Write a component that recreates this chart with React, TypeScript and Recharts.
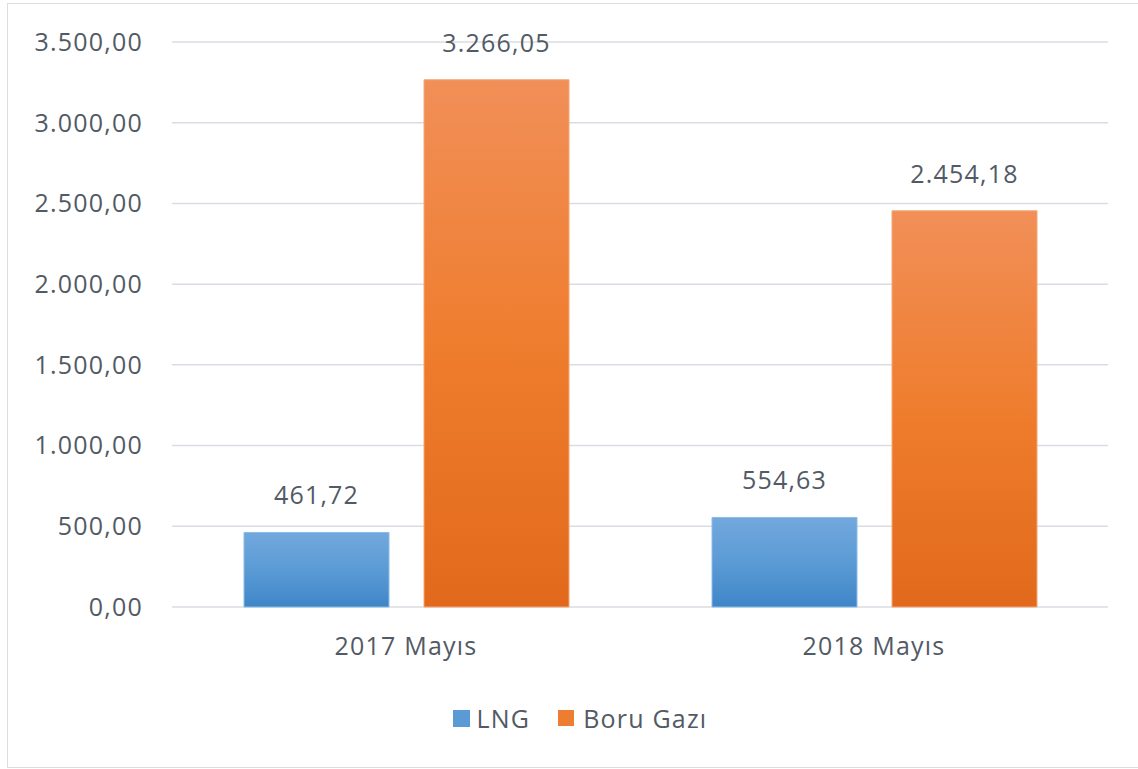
import React from 'react';
import { BarChart, Bar, XAxis, YAxis, CartesianGrid, LabelList, Legend } from 'recharts';

const categories = ['2017 Mayıs', '2018 Mayıs'];
const lngValues = [461.72, 554.63];
const boruValues = [3266.05, 2454.18];
const yTicks = [0, 500, 1000, 1500, 2000, 2500, 3000, 3500];
const seriesNames = ['LNG', 'Boru Gazı'];

const data = categories.map((c, i) => ({ name: c, lng: lngValues[i], boru: boruValues[i] }));

const TEXT = '#525a65';
const FONT = '"Open Sans", sans-serif';

const fmt = (v: number) => {
  const fixed = Number(v).toFixed(2);
  const [intPart, dec] = fixed.split('.');
  const withDots = intPart.replace(/\B(?=(\d{3})+(?!\d))/g, '.');
  return `${withDots},${dec}`;
};

const LegendContent = () => (
  <div style={{ display: 'flex', justifyContent: 'center', alignItems: 'center', fontFamily: FONT, fontSize: 25, color: TEXT, letterSpacing: 1.2 }}>
    <span style={{ display: 'inline-block', width: 17, height: 17, background: '#5b9bd5', marginRight: 7 }} />
    <span style={{ marginRight: 28 }}>{seriesNames[0]}</span>
    <span style={{ display: 'inline-block', width: 16, height: 16, background: '#ed7d31', marginRight: 9 }} />
    <span>{seriesNames[1]}</span>
  </div>
);

export default function App() {
  return (
    <div style={{ position: 'absolute', left: 0, top: 0, width: 1138, height: 769, background: '#fff', overflow: 'hidden' }}>
      <div style={{ position: 'absolute', left: 7, top: 3, width: 1160, height: 763, border: '1px solid #dadde2' }} />
      <div style={{ position: 'absolute', left: 0, top: 0 }}>
        <BarChart
          width={1138}
          height={769}
          data={data}
          margin={{ top: 42, right: 30, bottom: 102, left: 0 }}
          barSize={145}
          barGap={35}
        >
          <defs>
            <linearGradient id="gBlue" x1="0" y1="0" x2="0" y2="1">
              <stop offset="0%" stopColor="#72a8dd" />
              <stop offset="50%" stopColor="#5b9bd5" />
              <stop offset="100%" stopColor="#3f86c8" />
            </linearGradient>
            <linearGradient id="gOrange" x1="0" y1="0" x2="0" y2="1">
              <stop offset="0%" stopColor="#f18f58" />
              <stop offset="50%" stopColor="#ef7d2e" />
              <stop offset="100%" stopColor="#e2691b" />
            </linearGradient>
          </defs>
          <CartesianGrid vertical={false} stroke="#d9dde3" strokeWidth={1.5} />
          <XAxis
            dataKey="name"
            axisLine={false}
            tickLine={false}
            height={60}
            tickMargin={24}
            tick={{ fill: TEXT, fontSize: 25, fontFamily: FONT, letterSpacing: 1.2 }}
          />
          <YAxis
            width={172}
            domain={[0, 3500]}
            ticks={yTicks}
            axisLine={false}
            tickLine={false}
            tickMargin={23}
            tickFormatter={fmt}
            tick={{ fill: TEXT, fontSize: 25, fontFamily: FONT, letterSpacing: 1.2 }}
          />
          <Legend
            verticalAlign="middle"
            align="center"
            wrapperStyle={{ top: 701, left: 11, width: 1138 }}
            content={<LegendContent />}
          />
          <Bar dataKey="lng" name={seriesNames[0]} fill="url(#gBlue)" stroke="#8cbbe6" strokeWidth={1} isAnimationActive={false}>
            <LabelList dataKey="lng" position="top" offset={28} formatter={fmt} fill={TEXT} fontSize={25} fontFamily={FONT} letterSpacing={1.2} />
          </Bar>
          <Bar dataKey="boru" name={seriesNames[1]} fill="url(#gOrange)" stroke="#f5a676" strokeWidth={1} isAnimationActive={false}>
            <LabelList dataKey="boru" position="top" offset={28} formatter={fmt} fill={TEXT} fontSize={25} fontFamily={FONT} letterSpacing={1.2} />
          </Bar>
        </BarChart>
      </div>
    </div>
  );
}
